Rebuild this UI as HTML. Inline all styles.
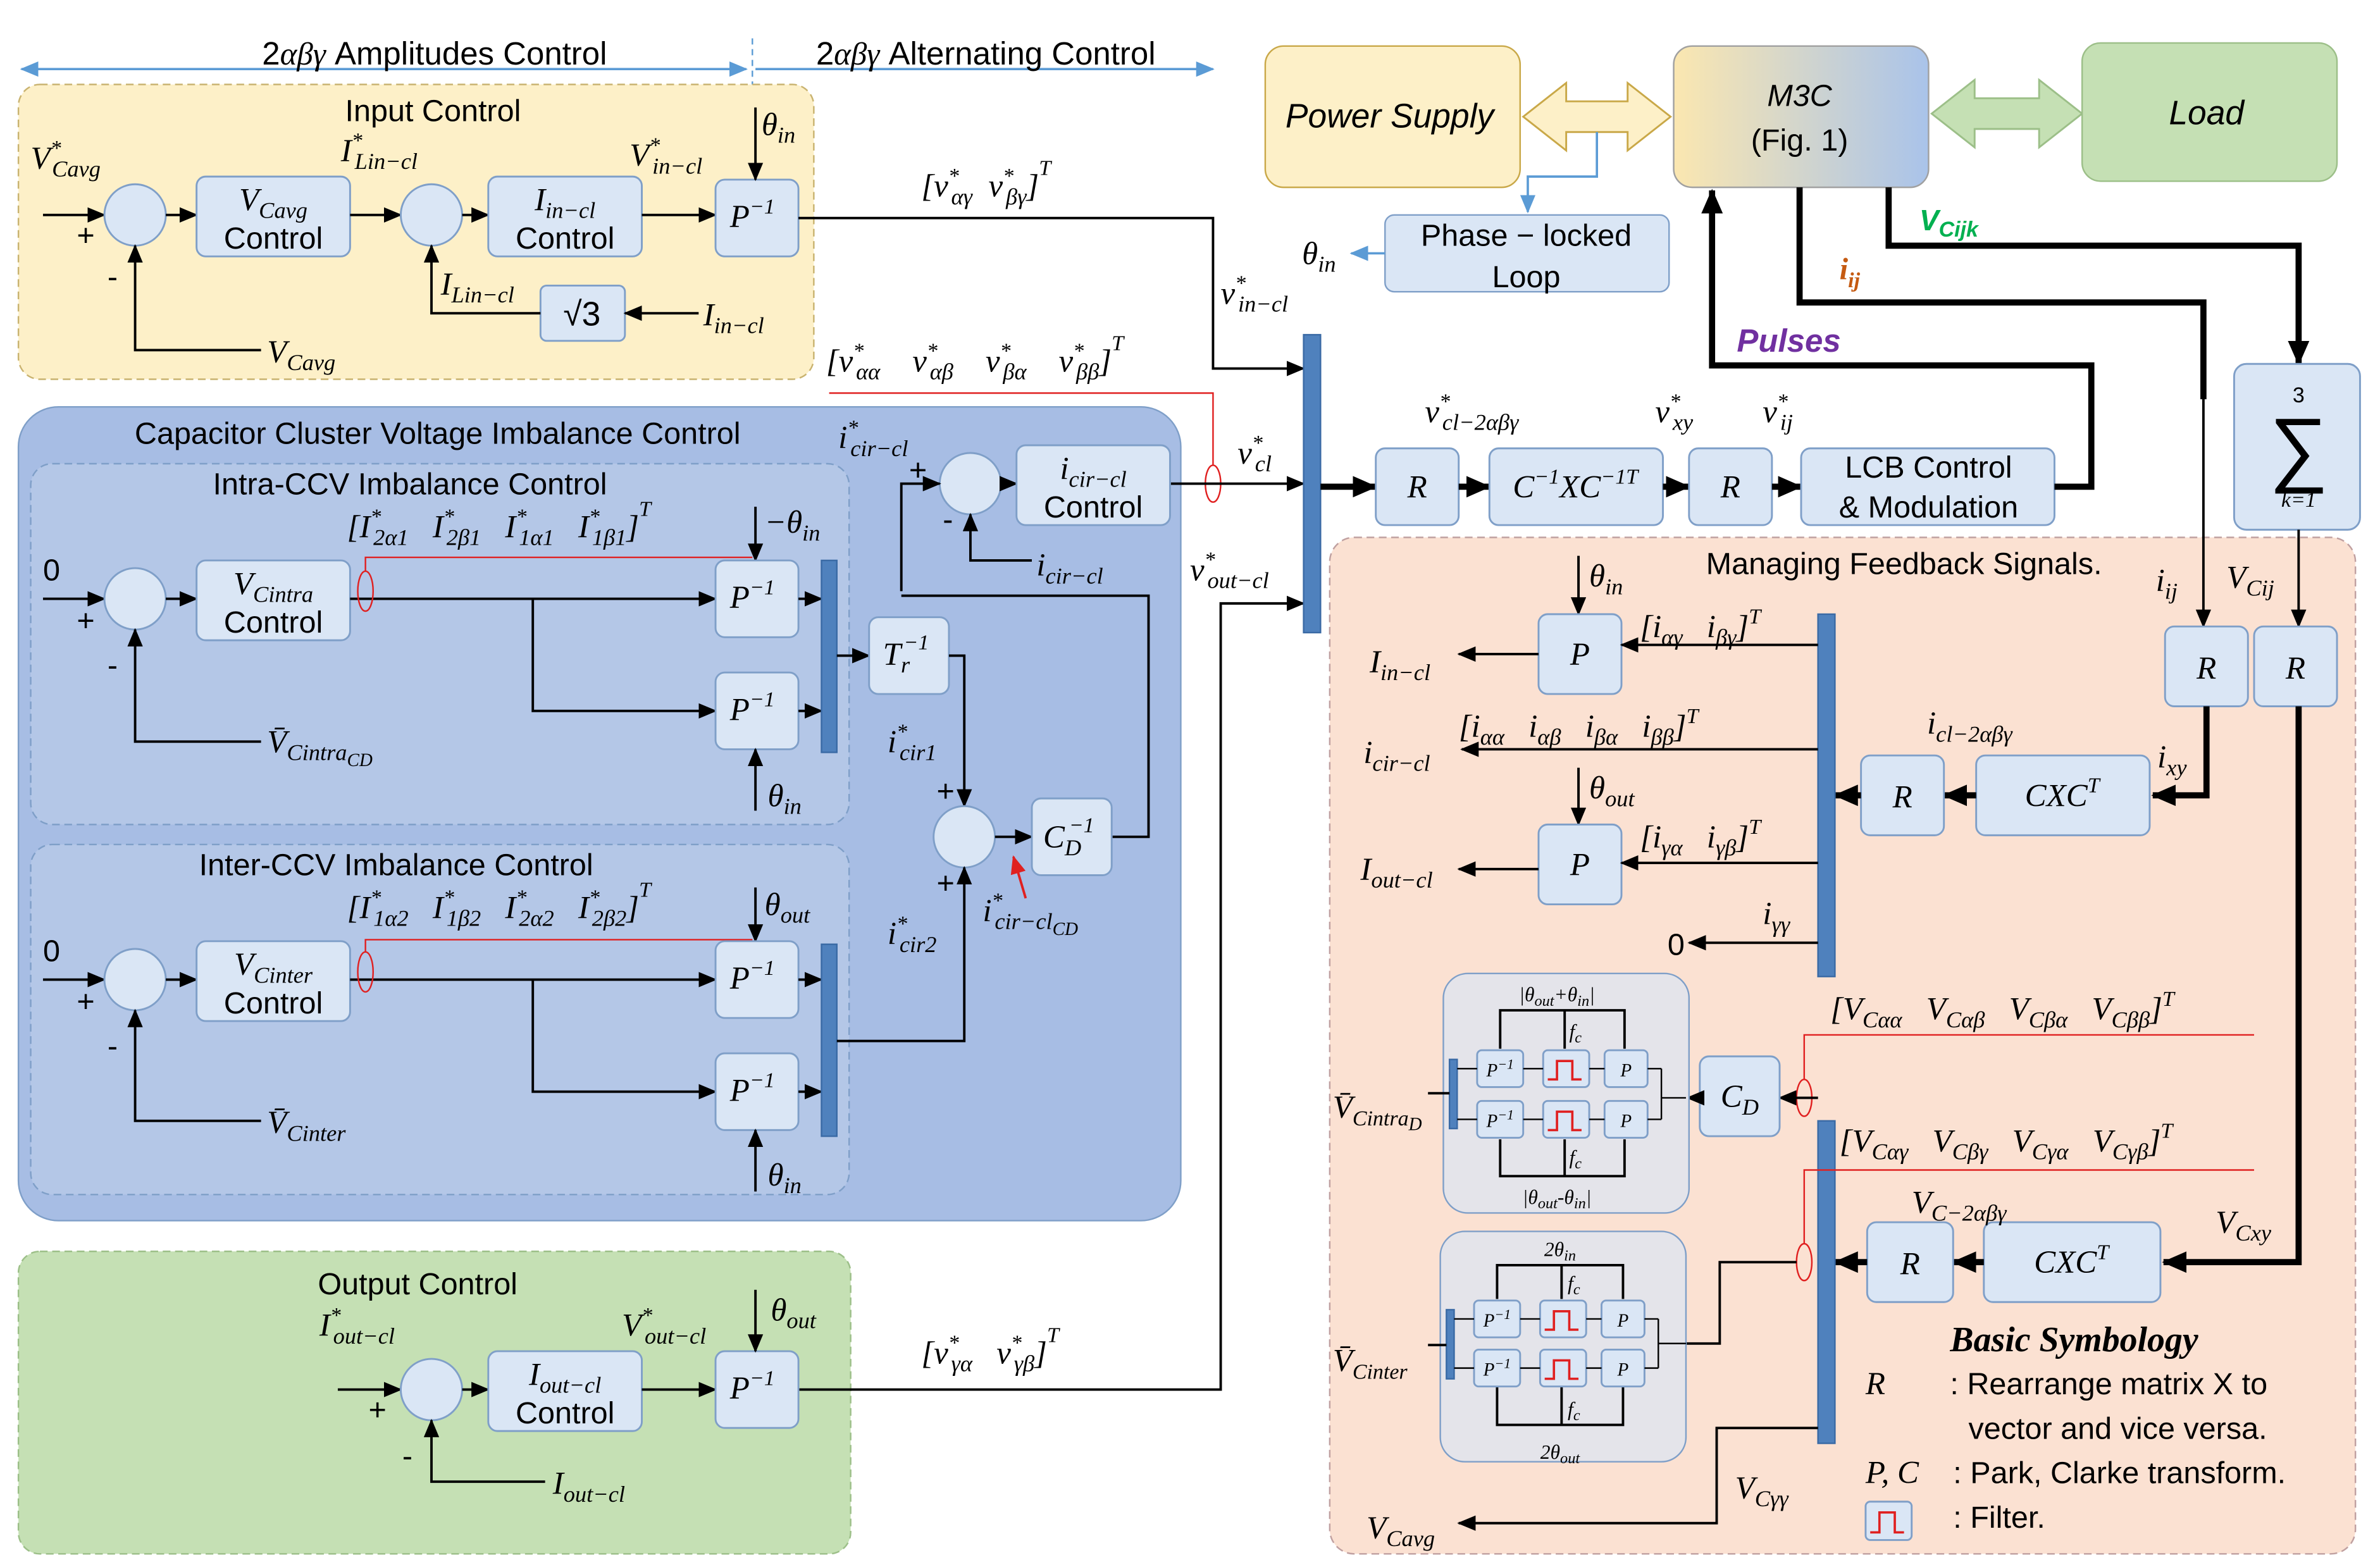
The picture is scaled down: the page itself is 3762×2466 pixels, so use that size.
<!DOCTYPE html>
<html><head><meta charset="utf-8"><style>
html,body{margin:0;padding:0;background:#fff}
svg{display:block}
text{white-space:pre}
.m{font-family:"Liberation Serif",serif;font-style:italic;font-size:21px;fill:#000}
.s{font-family:"Liberation Sans",sans-serif;font-size:20px;fill:#000}
.b{fill:#dae6f5;stroke:#7f9fc8;stroke-width:1.2}
.l{stroke:#000;stroke-width:1.6;fill:none}
.t{stroke:#000;stroke-width:4;fill:none}
.bar{fill:#4f81bd;stroke:#3a6aa5;stroke-width:1}
.r{stroke:#e02020;stroke-width:1;fill:none}
</style></head><body>
<svg width="3762" height="2466" viewBox="0 0 1550 1016" preserveAspectRatio="none" xmlns="http://www.w3.org/2000/svg">
<defs>
<marker id="a" markerUnits="userSpaceOnUse" markerWidth="12" markerHeight="10" refX="11" refY="5" orient="auto"><path d="M0,0 L12,5 L0,10 z" fill="#000"/></marker>
<marker id="A" markerUnits="userSpaceOnUse" markerWidth="16" markerHeight="14" refX="15" refY="7" orient="auto"><path d="M0,0 L16,7 L0,14 z" fill="#000"/></marker>
<marker id="bl" markerUnits="userSpaceOnUse" markerWidth="12" markerHeight="10" refX="11" refY="5" orient="auto"><path d="M0,0 L12,5 L0,10 z" fill="#5b9bd5"/></marker>
<marker id="bls" markerUnits="userSpaceOnUse" markerWidth="12" markerHeight="10" refX="1" refY="5" orient="auto"><path d="M12,0 L0,5 L12,10 z" fill="#5b9bd5"/></marker>
<marker id="rd" markerUnits="userSpaceOnUse" markerWidth="12" markerHeight="10" refX="11" refY="5" orient="auto"><path d="M0,0 L12,5 L0,10 z" fill="#e02020"/></marker>
<linearGradient id="g" x1="0" x2="1"><stop offset="0" stop-color="#fbe7b0"/><stop offset="1" stop-color="#a9c3ea"/></linearGradient>
</defs>

<!-- header -->
<line x1="14" y1="45" x2="486" y2="45" stroke="#5b9bd5" stroke-width="1.5" marker-start="url(#bls)" marker-end="url(#bl)"/>
<line x1="492" y1="45" x2="790" y2="45" stroke="#5b9bd5" stroke-width="1.5" marker-end="url(#bl)"/>
<line x1="490" y1="25" x2="490" y2="60" stroke="#5b9bd5" stroke-width="1" stroke-dasharray="4,3"/>
<text class="s" x="283" y="42" text-anchor="middle" style="font-size:21px">2<tspan class="m">αβγ</tspan> Amplitudes Control</text>
<text class="s" x="642" y="42" text-anchor="middle" style="font-size:21px">2<tspan class="m">αβγ</tspan> Alternating Control</text>

<!-- region boxes -->
<rect x="12" y="55" width="518" height="192" rx="14" fill="#fdf0c8" stroke="#c9b370" stroke-dasharray="5,3"/>
<text class="s" x="282" y="79" text-anchor="middle">Input Control</text>
<rect x="12" y="265" width="757" height="530" rx="26" fill="#a7bde4" stroke="#7f9fc8"/>
<text class="s" x="285" y="289" text-anchor="middle">Capacitor Cluster Voltage Imbalance Control</text>
<rect x="20" y="302" width="533" height="235" rx="14" fill="#b4c7e7" stroke="#7f9fc8" stroke-dasharray="5,3"/>
<text class="s" x="267" y="322" text-anchor="middle">Intra-CCV Imbalance Control</text>
<rect x="20" y="550" width="533" height="228" rx="14" fill="#b4c7e7" stroke="#7f9fc8" stroke-dasharray="5,3"/>
<text class="s" x="258" y="570" text-anchor="middle">Inter-CCV Imbalance Control</text>
<rect x="12" y="815" width="542" height="197" rx="14" fill="#c5e0b4" stroke="#9cbf88" stroke-dasharray="5,3"/>
<text class="s" x="272" y="843" text-anchor="middle">Output Control</text>
<rect x="866" y="350" width="668" height="662" rx="16" fill="#fbe1d2" stroke="#c0a0a0" stroke-dasharray="5,3"/>
<text class="s" x="1240" y="374" text-anchor="middle">Managing Feedback Signals.</text>

<!-- Input control -->
<text class="m" x="20" y="110">V<tspan font-size="14" dy="-9">*</tspan><tspan font-size="15" dx="-6" dy="14">Cavg</tspan></text>
<line class="l" x1="28" y1="140" x2="68" y2="140" marker-end="url(#a)"/>
<text class="s" x="50" y="160">+</text>
<circle cx="88" cy="140" r="20" class="b"/>
<line class="l" x1="108" y1="140" x2="128" y2="140" marker-end="url(#a)"/>
<rect class="b" x="128" y="115" width="100" height="52" rx="6"/>
<text class="m" x="178" y="137" text-anchor="middle">V<tspan font-size="15" dy="5">Cavg</tspan></text>
<text class="s" x="178" y="162" text-anchor="middle">Control</text>
<line class="l" x1="228" y1="140" x2="261" y2="140" marker-end="url(#a)"/>
<text class="m" x="222" y="105">I<tspan font-size="14" dy="-9">*</tspan><tspan font-size="15" dx="-5" dy="14">Lin−cl</tspan></text>
<circle cx="281" cy="140" r="20" class="b"/>
<line class="l" x1="301" y1="140" x2="318" y2="140" marker-end="url(#a)"/>
<rect class="b" x="318" y="115" width="100" height="52" rx="6"/>
<text class="m" x="368" y="137" text-anchor="middle">I<tspan font-size="15" dy="5">in−cl</tspan></text>
<text class="s" x="368" y="162" text-anchor="middle">Control</text>
<line class="l" x1="418" y1="140" x2="466" y2="140" marker-end="url(#a)"/>
<text class="m" x="410" y="108">V<tspan font-size="14" dy="-9">*</tspan><tspan font-size="15" dx="-5" dy="14">in−cl</tspan></text>
<rect class="b" x="466" y="117" width="54" height="50" rx="6"/>
<text class="m" x="490" y="148" text-anchor="middle">P<tspan font-size="14" dy="-9">−1</tspan></text>
<line class="l" x1="492" y1="70" x2="492" y2="117" marker-end="url(#a)"/>
<text class="m" x="496" y="88">θ<tspan font-size="15" dy="5">in</tspan></text>
<polyline class="l" points="170,228 88,228 88,160" marker-end="url(#a)"/>
<text class="s" x="70" y="187">-</text>
<text class="m" x="174" y="236">V<tspan font-size="15" dy="5">Cavg</tspan></text>
<rect class="b" x="352" y="186" width="55" height="36" rx="4"/>
<text class="s" x="379" y="212" text-anchor="middle" style="font-size:22px">√3</text>
<line class="l" x1="455" y1="204" x2="407" y2="204" marker-end="url(#a)"/>
<text class="m" x="458" y="212">I<tspan font-size="15" dy="5">in−cl</tspan></text>
<polyline class="l" points="352,204 281,204 281,160" marker-end="url(#a)"/>
<text class="m" x="287" y="192">I<tspan font-size="15" dy="5">Lin−cl</tspan></text>
<polyline class="l" points="520,142 790,142 790,240 849,240" marker-end="url(#a)"/>
<text class="m" x="600" y="128">[v<tspan font-size="14" dy="-9">*</tspan><tspan font-size="15" dx="-5" dy="14">αγ</tspan><tspan dy="-5">  v</tspan><tspan font-size="14" dy="-9">*</tspan><tspan font-size="15" dx="-5" dy="14">βγ</tspan><tspan dy="-5">]</tspan><tspan font-size="14" dy="-14">T</tspan></text>
<text class="m" x="795" y="198">v<tspan font-size="14" dy="-9">*</tspan><tspan font-size="15" dx="-5" dy="14">in−cl</tspan></text>

<!-- alpha beta refs -->
<text class="m" x="538" y="242">[v<tspan font-size="14" dy="-9">*</tspan><tspan font-size="15" dx="-5" dy="14">αα</tspan><tspan dy="-5">    v</tspan><tspan font-size="14" dy="-9">*</tspan><tspan font-size="15" dx="-5" dy="14">αβ</tspan><tspan dy="-5">    v</tspan><tspan font-size="14" dy="-9">*</tspan><tspan font-size="15" dx="-5" dy="14">βα</tspan><tspan dy="-5">    v</tspan><tspan font-size="14" dy="-9">*</tspan><tspan font-size="15" dx="-5" dy="14">ββ</tspan><tspan dy="-5">]</tspan><tspan font-size="14" dy="-14">T</tspan></text>
<polyline class="r" points="540,256 790,256 790,303"/>
<ellipse cx="790" cy="315" rx="5" ry="12" class="r"/>
<line class="l" x1="762" y1="315" x2="849" y2="315" marker-end="url(#a)"/>
<text class="m" x="806" y="302">v<tspan font-size="14" dy="-9">*</tspan><tspan font-size="15" dx="-5" dy="14">cl</tspan></text>
<text class="m" x="775" y="378">v<tspan font-size="14" dy="-9">*</tspan><tspan font-size="15" dx="-5" dy="14">out−cl</tspan></text>
<polyline class="l" points="520,905 795,905 795,393 849,393" marker-end="url(#a)"/>

<!-- circulating control -->
<circle cx="632" cy="315" r="20" class="b"/>
<text class="m" x="546" y="292">i<tspan font-size="14" dy="-9">*</tspan><tspan font-size="15" dx="-5" dy="14">cir−cl</tspan></text>
<text class="s" x="592" y="313">+</text>
<text class="s" x="614" y="345">-</text>
<polyline class="l" points="587,385 587,315 612,315" marker-end="url(#a)"/>
<line class="l" x1="652" y1="315" x2="662" y2="315" marker-end="url(#a)"/>
<rect class="b" x="662" y="290" width="100" height="52" rx="6"/>
<text class="m" x="712" y="312" text-anchor="middle">i<tspan font-size="15" dy="5">cir−cl</tspan></text>
<text class="s" x="712" y="337" text-anchor="middle">Control</text>
<polyline class="l" points="672,365 632,365 632,335" marker-end="url(#a)"/>
<text class="m" x="675" y="375">i<tspan font-size="15" dy="5">cir−cl</tspan></text>
<polyline class="l" points="724,545 748,545 748,388 587,388"/>

<!-- Intra -->
<text class="s" x="28" y="378">0</text>
<line class="l" x1="28" y1="390" x2="68" y2="390" marker-end="url(#a)"/>
<text class="s" x="50" y="411">+</text>
<circle cx="88" cy="390" r="20" class="b"/>
<text class="s" x="70" y="440">-</text>
<polyline class="l" points="170,483 88,483 88,410" marker-end="url(#a)"/>
<text class="m" x="174" y="490">V̄<tspan font-size="15" dy="5">Cintra</tspan><tspan font-size="12" dy="4">CD</tspan></text>
<line class="l" x1="108" y1="390" x2="128" y2="390" marker-end="url(#a)"/>
<rect class="b" x="128" y="365" width="100" height="52" rx="6"/>
<text class="m" x="178" y="387" text-anchor="middle">V<tspan font-size="15" dy="5">Cintra</tspan></text>
<text class="s" x="178" y="412" text-anchor="middle">Control</text>
<line class="l" x1="228" y1="390" x2="466" y2="390" marker-end="url(#a)"/>
<polyline class="l" points="347,390 347,463 466,463" marker-end="url(#a)"/>
<ellipse cx="238" cy="385" rx="5" ry="13" class="r"/>
<polyline class="r" points="238,372 238,363 490,363"/>
<text class="m" x="226" y="350">[I<tspan font-size="14" dy="-9">*</tspan><tspan font-size="15" dx="-5" dy="14">2α1</tspan><tspan dy="-5">   I</tspan><tspan font-size="14" dy="-9">*</tspan><tspan font-size="15" dx="-5" dy="14">2β1</tspan><tspan dy="-5">   I</tspan><tspan font-size="14" dy="-9">*</tspan><tspan font-size="15" dx="-5" dy="14">1α1</tspan><tspan dy="-5">   I</tspan><tspan font-size="14" dy="-9">*</tspan><tspan font-size="15" dx="-5" dy="14">1β1</tspan><tspan dy="-5">]</tspan><tspan font-size="14" dy="-14">T</tspan></text>
<line class="l" x1="492" y1="330" x2="492" y2="365" marker-end="url(#a)"/>
<text class="m" x="498" y="347">−θ<tspan font-size="15" dy="5">in</tspan></text>
<rect class="b" x="466" y="365" width="54" height="50" rx="6"/>
<text class="m" x="490" y="396" text-anchor="middle">P<tspan font-size="14" dy="-9">−1</tspan></text>
<rect class="b" x="466" y="438" width="54" height="50" rx="6"/>
<text class="m" x="490" y="469" text-anchor="middle">P<tspan font-size="14" dy="-9">−1</tspan></text>
<line class="l" x1="492" y1="528" x2="492" y2="488" marker-end="url(#a)"/>
<text class="m" x="500" y="525">θ<tspan font-size="15" dy="5">in</tspan></text>
<line class="l" x1="520" y1="390" x2="535" y2="390" marker-end="url(#a)"/>
<line class="l" x1="520" y1="463" x2="535" y2="463" marker-end="url(#a)"/>
<rect class="bar" x="535" y="365" width="10" height="125"/>
<line class="l" x1="545" y1="427" x2="566" y2="427" marker-end="url(#a)"/>
<rect class="b" x="566" y="402" width="52" height="50" rx="6"/>
<text class="m" x="590" y="433" text-anchor="middle">T<tspan font-size="15" dy="5">r</tspan><tspan font-size="14" dy="-15" dx="-4">−1</tspan></text>
<polyline class="l" points="618,427 628,427 628,525" marker-end="url(#a)"/>
<text class="m" x="578" y="490">i<tspan font-size="14" dy="-9">*</tspan><tspan font-size="15" dx="-5" dy="14">cir1</tspan></text>
<text class="s" x="610" y="522">+</text>
<circle cx="628" cy="545" r="20" class="b"/>
<line class="l" x1="648" y1="545" x2="672" y2="545" marker-end="url(#a)"/>
<rect class="b" x="672" y="520" width="52" height="50" rx="6"/>
<text class="m" x="696" y="552" text-anchor="middle">C<tspan font-size="15" dy="5">D</tspan><tspan font-size="14" dy="-15" dx="-8">−1</tspan></text>
<line x1="668" y1="585" x2="660" y2="558" stroke="#e02020" stroke-width="1.6" marker-end="url(#rd)"/>
<text class="m" x="640" y="600">i<tspan font-size="14" dy="-9">*</tspan><tspan font-size="15" dx="-5" dy="14">cir−cl</tspan><tspan font-size="12" dy="4">CD</tspan></text>

<!-- Inter -->
<text class="s" x="28" y="626">0</text>
<line class="l" x1="28" y1="638" x2="68" y2="638" marker-end="url(#a)"/>
<text class="s" x="50" y="659">+</text>
<circle cx="88" cy="638" r="20" class="b"/>
<text class="s" x="70" y="688">-</text>
<polyline class="l" points="170,730 88,730 88,658" marker-end="url(#a)"/>
<text class="m" x="174" y="738">V̄<tspan font-size="15" dy="5">Cinter</tspan></text>
<line class="l" x1="108" y1="638" x2="128" y2="638" marker-end="url(#a)"/>
<rect class="b" x="128" y="613" width="100" height="52" rx="6"/>
<text class="m" x="178" y="635" text-anchor="middle">V<tspan font-size="15" dy="5">Cinter</tspan></text>
<text class="s" x="178" y="660" text-anchor="middle">Control</text>
<line class="l" x1="228" y1="638" x2="466" y2="638" marker-end="url(#a)"/>
<polyline class="l" points="347,638 347,711 466,711" marker-end="url(#a)"/>
<ellipse cx="238" cy="633" rx="5" ry="13" class="r"/>
<polyline class="r" points="238,620 238,612 490,612"/>
<text class="m" x="226" y="598">[I<tspan font-size="14" dy="-9">*</tspan><tspan font-size="15" dx="-5" dy="14">1α2</tspan><tspan dy="-5">   I</tspan><tspan font-size="14" dy="-9">*</tspan><tspan font-size="15" dx="-5" dy="14">1β2</tspan><tspan dy="-5">   I</tspan><tspan font-size="14" dy="-9">*</tspan><tspan font-size="15" dx="-5" dy="14">2α2</tspan><tspan dy="-5">   I</tspan><tspan font-size="14" dy="-9">*</tspan><tspan font-size="15" dx="-5" dy="14">2β2</tspan><tspan dy="-5">]</tspan><tspan font-size="14" dy="-14">T</tspan></text>
<line class="l" x1="492" y1="578" x2="492" y2="613" marker-end="url(#a)"/>
<text class="m" x="498" y="596">θ<tspan font-size="15" dy="5">out</tspan></text>
<rect class="b" x="466" y="613" width="54" height="50" rx="6"/>
<text class="m" x="490" y="644" text-anchor="middle">P<tspan font-size="14" dy="-9">−1</tspan></text>
<rect class="b" x="466" y="686" width="54" height="50" rx="6"/>
<text class="m" x="490" y="717" text-anchor="middle">P<tspan font-size="14" dy="-9">−1</tspan></text>
<line class="l" x1="492" y1="776" x2="492" y2="736" marker-end="url(#a)"/>
<text class="m" x="500" y="772">θ<tspan font-size="15" dy="5">in</tspan></text>
<line class="l" x1="520" y1="638" x2="535" y2="638" marker-end="url(#a)"/>
<line class="l" x1="520" y1="711" x2="535" y2="711" marker-end="url(#a)"/>
<rect class="bar" x="535" y="615" width="10" height="125"/>
<polyline class="l" points="545,678 628,678 628,565" marker-end="url(#a)"/>
<text class="m" x="578" y="615">i<tspan font-size="14" dy="-9">*</tspan><tspan font-size="15" dx="-5" dy="14">cir2</tspan></text>
<text class="s" x="610" y="582">+</text>

<!-- Output control -->
<text class="m" x="208" y="870">I<tspan font-size="14" dy="-9">*</tspan><tspan font-size="15" dx="-5" dy="14">out−cl</tspan></text>
<line class="l" x1="220" y1="905" x2="261" y2="905" marker-end="url(#a)"/>
<text class="s" x="240" y="925">+</text>
<circle cx="281" cy="905" r="20" class="b"/>
<text class="s" x="262" y="955">-</text>
<polyline class="l" points="355,965 281,965 281,925" marker-end="url(#a)"/>
<text class="m" x="360" y="973">I<tspan font-size="15" dy="5">out−cl</tspan></text>
<line class="l" x1="301" y1="905" x2="318" y2="905" marker-end="url(#a)"/>
<rect class="b" x="318" y="880" width="100" height="52" rx="6"/>
<text class="m" x="368" y="902" text-anchor="middle">I<tspan font-size="15" dy="5">out−cl</tspan></text>
<text class="s" x="368" y="927" text-anchor="middle">Control</text>
<line class="l" x1="418" y1="905" x2="466" y2="905" marker-end="url(#a)"/>
<text class="m" x="405" y="870">V<tspan font-size="14" dy="-9">*</tspan><tspan font-size="15" dx="-5" dy="14">out−cl</tspan></text>
<rect class="b" x="466" y="880" width="54" height="50" rx="6"/>
<text class="m" x="490" y="911" text-anchor="middle">P<tspan font-size="14" dy="-9">−1</tspan></text>
<line class="l" x1="492" y1="840" x2="492" y2="880" marker-end="url(#a)"/>
<text class="m" x="502" y="860">θ<tspan font-size="15" dy="5">out</tspan></text>
<text class="m" x="600" y="888">[v<tspan font-size="14" dy="-9">*</tspan><tspan font-size="15" dx="-5" dy="14">γα</tspan><tspan dy="-5">   v</tspan><tspan font-size="14" dy="-9">*</tspan><tspan font-size="15" dx="-5" dy="14">γβ</tspan><tspan dy="-5">]</tspan><tspan font-size="14" dy="-14">T</tspan></text>

<!-- middle bar and chain -->
<rect class="bar" x="849" y="218" width="11" height="194"/>
<line class="t" x1="860" y1="317" x2="896" y2="317" marker-end="url(#A)"/>
<rect class="b" x="896" y="292" width="54" height="50" rx="6"/>
<text class="m" x="923" y="324" text-anchor="middle">R</text>
<line class="t" x1="950" y1="317" x2="970" y2="317" marker-end="url(#A)"/>
<rect class="b" x="970" y="292" width="113" height="50" rx="6"/>
<text class="m" x="1026" y="324" text-anchor="middle">C<tspan font-size="14" dy="-9">−1</tspan><tspan dy="9">XC</tspan><tspan font-size="14" dy="-9">−1T</tspan></text>
<text class="m" x="928" y="275">v<tspan font-size="14" dy="-9">*</tspan><tspan font-size="15" dx="-5" dy="14">cl−2αβγ</tspan></text>
<line class="t" x1="1083" y1="317" x2="1100" y2="317" marker-end="url(#A)"/>
<text class="m" x="1078" y="275">v<tspan font-size="14" dy="-9">*</tspan><tspan font-size="15" dx="-5" dy="14">xy</tspan></text>
<rect class="b" x="1100" y="292" width="54" height="50" rx="6"/>
<text class="m" x="1127" y="324" text-anchor="middle">R</text>
<line class="t" x1="1154" y1="317" x2="1173" y2="317" marker-end="url(#A)"/>
<text class="m" x="1148" y="275">v<tspan font-size="14" dy="-9">*</tspan><tspan font-size="15" dx="-5" dy="14">ij</tspan></text>
<rect class="b" x="1173" y="292" width="165" height="50" rx="6"/>
<text class="s" x="1256" y="311" text-anchor="middle">LCB Control</text>
<text class="s" x="1256" y="337" text-anchor="middle">&amp; Modulation</text>

<!-- top right -->
<rect x="824" y="30" width="166" height="92" rx="12" fill="#fdf0c8" stroke="#c9a848"/>
<text class="s" x="905" y="83" text-anchor="middle" style="font-style:italic;font-size:22px">Power Supply</text>
<polygon points="992,76 1020,54 1020,66 1060,66 1060,54 1088,76 1060,98 1060,86 1020,86 1020,98" fill="#fdf0c8" stroke="#c9a848" stroke-width="1.2"/>
<rect x="1090" y="30" width="166" height="92" rx="12" fill="url(#g)" stroke="#a0a0a0"/>
<text class="s" x="1172" y="69" text-anchor="middle" style="font-style:italic">M3C</text>
<text class="s" x="1172" y="98" text-anchor="middle">(Fig. 1)</text>
<polygon points="1258,74 1286,52 1286,64 1328,64 1328,52 1356,74 1328,96 1328,84 1286,84 1286,96" fill="#c5e0b4" stroke="#9cbf88" stroke-width="1.2"/>
<rect x="1356" y="28" width="166" height="90" rx="12" fill="#c5e0b4" stroke="#9cbf88"/>
<text class="s" x="1437" y="81" text-anchor="middle" style="font-style:italic;font-size:22px">Load</text>
<polyline points="1040,86 1040,115 995,115 995,138" fill="none" stroke="#5b9bd5" stroke-width="1.5" marker-end="url(#bl)"/>
<rect x="902" y="140" width="185" height="50" rx="6" fill="#dae6f5" stroke="#7f9fc8"/>
<text class="s" x="994" y="160" text-anchor="middle">Phase − locked</text>
<text class="s" x="994" y="187" text-anchor="middle">Loop</text>
<line x1="902" y1="165" x2="880" y2="165" stroke="#5b9bd5" stroke-width="1.5" marker-end="url(#bl)"/>
<text class="m" x="848" y="172">θ<tspan font-size="15" dy="5">in</tspan></text>

<polyline class="t" points="1338,317 1362,317 1362,238 1115,238 1115,124" marker-end="url(#A)"/>
<text x="1165" y="229" text-anchor="middle" font-family="Liberation Sans,sans-serif" font-weight="bold" font-style="italic" font-size="21" fill="#7030a0">Pulses</text>
<polyline class="t" points="1172,122 1172,197 1435,197 1435,260"/>
<line class="l" x1="1435" y1="258" x2="1435" y2="408" stroke-width="2.5" marker-end="url(#a)"/>
<text x="1198" y="182" font-family="Liberation Serif,serif" font-weight="bold" font-style="italic" font-size="20" fill="#c55a11">i<tspan font-size="14" dy="5">ij</tspan></text>
<polyline class="t" points="1230,122 1230,160 1497,160 1497,237" marker-end="url(#A)"/>
<text x="1250" y="150" font-family="Liberation Sans,sans-serif" font-weight="bold" font-style="italic" font-size="19" fill="#00b050">V<tspan font-size="14" dy="4">Cijk</tspan></text>
<rect class="b" x="1455" y="237" width="82" height="108" rx="8"/>
<text class="s" x="1497" y="262" text-anchor="middle" style="font-size:14px">3</text>
<text class="s" x="1497" y="310" text-anchor="middle" style="font-size:54px">∑</text>
<text class="m" x="1497" y="330" text-anchor="middle" style="font-size:14px">k=1</text>
<line class="l" x1="1497" y1="345" x2="1497" y2="408" stroke-width="2.5" marker-end="url(#a)"/>
<text class="m" x="1450" y="383">V<tspan font-size="15" dy="5">Cij</tspan></text>
<text class="m" x="1404" y="385">i<tspan font-size="15" dy="5">ij</tspan></text>
<rect class="b" x="1410" y="408" width="54" height="52" rx="6"/>
<text class="m" x="1437" y="442" text-anchor="middle">R</text>
<rect class="b" x="1468" y="408" width="54" height="52" rx="6"/>
<text class="m" x="1495" y="442" text-anchor="middle">R</text>
<polyline class="t" points="1437,460 1437,518 1402,518" marker-end="url(#A)"/>
<text class="m" x="1405" y="500">i<tspan font-size="15" dy="5">xy</tspan></text>
<rect class="b" x="1287" y="492" width="113" height="52" rx="6"/>
<text class="m" x="1343" y="525" text-anchor="middle">CXC<tspan font-size="14" dy="-9">T</tspan></text>
<line class="t" x1="1287" y1="518" x2="1266" y2="518" marker-end="url(#A)"/>
<rect class="b" x="1212" y="492" width="54" height="52" rx="6"/>
<text class="m" x="1239" y="526" text-anchor="middle">R</text>
<line class="t" x1="1212" y1="518" x2="1195" y2="518" marker-end="url(#A)"/>
<text class="m" x="1255" y="478">i<tspan font-size="15" dy="5">cl−2αβγ</tspan></text>
<polyline class="t" points="1497,460 1497,822 1409,822" marker-end="url(#A)"/>
<text class="m" x="1443" y="803">V<tspan font-size="15" dy="5">Cxy</tspan></text>
<rect class="b" x="1292" y="796" width="115" height="52" rx="6"/>
<text class="m" x="1349" y="829" text-anchor="middle">CXC<tspan font-size="14" dy="-9">T</tspan></text>
<line class="t" x1="1292" y1="822" x2="1272" y2="822" marker-end="url(#A)"/>
<rect class="b" x="1216" y="796" width="56" height="52" rx="6"/>
<text class="m" x="1244" y="830" text-anchor="middle">R</text>
<line class="t" x1="1216" y1="822" x2="1195" y2="822" marker-end="url(#A)"/>
<text class="m" x="1245" y="790">V<tspan font-size="15" dy="5">C−2αβγ</tspan></text>

<!-- feedback bars -->
<rect class="bar" x="1184" y="400" width="11" height="236"/>
<rect class="bar" x="1184" y="730" width="11" height="210"/>
<line class="l" x1="1028" y1="362" x2="1028" y2="400" marker-end="url(#a)"/>
<text class="m" x="1035" y="382">θ<tspan font-size="15" dy="5">in</tspan></text>
<rect class="b" x="1002" y="400" width="54" height="52" rx="6"/>
<text class="m" x="1029" y="433" text-anchor="middle">P</text>
<line class="l" x1="1184" y1="420" x2="1056" y2="420" marker-end="url(#a)"/>
<text class="m" x="1068" y="415">[i<tspan font-size="15" dy="5">αγ</tspan><tspan dy="-5">   i</tspan><tspan font-size="15" dy="5">βγ</tspan><tspan dy="-5">]</tspan><tspan font-size="14" dy="-9">T</tspan></text>
<line class="l" x1="1002" y1="426" x2="950" y2="426" marker-end="url(#a)"/>
<text class="m" x="892" y="438">I<tspan font-size="15" dy="5">in−cl</tspan></text>
<text class="m" x="950" y="480">[i<tspan font-size="15" dy="5">αα</tspan><tspan dy="-5">   i</tspan><tspan font-size="15" dy="5">αβ</tspan><tspan dy="-5">   i</tspan><tspan font-size="15" dy="5">βα</tspan><tspan dy="-5">   i</tspan><tspan font-size="15" dy="5">ββ</tspan><tspan dy="-5">]</tspan><tspan font-size="14" dy="-9">T</tspan></text>
<line class="l" x1="1184" y1="488" x2="952" y2="488" marker-end="url(#a)"/>
<text class="m" x="888" y="497">i<tspan font-size="15" dy="5">cir−cl</tspan></text>
<line class="l" x1="1028" y1="500" x2="1028" y2="537" marker-end="url(#a)"/>
<text class="m" x="1035" y="520">θ<tspan font-size="15" dy="5">out</tspan></text>
<rect class="b" x="1002" y="537" width="54" height="52" rx="6"/>
<text class="m" x="1029" y="570" text-anchor="middle">P</text>
<line class="l" x1="1184" y1="562" x2="1056" y2="562" marker-end="url(#a)"/>
<text class="m" x="1068" y="552">[i<tspan font-size="15" dy="5">γα</tspan><tspan dy="-5">   i</tspan><tspan font-size="15" dy="5">γβ</tspan><tspan dy="-5">]</tspan><tspan font-size="14" dy="-9">T</tspan></text>
<line class="l" x1="1002" y1="566" x2="950" y2="566" marker-end="url(#a)"/>
<text class="m" x="886" y="573">I<tspan font-size="15" dy="5">out−cl</tspan></text>
<text class="m" x="1148" y="602">i<tspan font-size="15" dy="5">γγ</tspan></text>
<line class="l" x1="1184" y1="614" x2="1100" y2="614" marker-end="url(#a)"/>
<text class="s" x="1086" y="622">0</text>

<text class="m" x="1192" y="664">[V<tspan font-size="15" dy="5">Cαα</tspan><tspan dy="-5">   V</tspan><tspan font-size="15" dy="5">Cαβ</tspan><tspan dy="-5">   V</tspan><tspan font-size="15" dy="5">Cβα</tspan><tspan dy="-5">   V</tspan><tspan font-size="15" dy="5">Cββ</tspan><tspan dy="-5">]</tspan><tspan font-size="14" dy="-9">T</tspan></text>
<polyline class="r" points="1468,674 1175,674 1175,703"/>
<ellipse cx="1175" cy="715" rx="5" ry="12" class="r"/>
<line class="l" x1="1184" y1="715" x2="1159" y2="715" marker-end="url(#a)"/>
<rect class="b" x="1107" y="688" width="52" height="52" rx="6"/>
<text class="m" x="1133" y="721" text-anchor="middle">C<tspan font-size="15" dy="5">D</tspan></text>
<line class="l" x1="1107" y1="715" x2="1099" y2="715" marker-end="url(#a)"/>
<text class="m" x="1198" y="750">[V<tspan font-size="15" dy="5">Cαγ</tspan><tspan dy="-5">   V</tspan><tspan font-size="15" dy="5">Cβγ</tspan><tspan dy="-5">   V</tspan><tspan font-size="15" dy="5">Cγα</tspan><tspan dy="-5">   V</tspan><tspan font-size="15" dy="5">Cγβ</tspan><tspan dy="-5">]</tspan><tspan font-size="14" dy="-9">T</tspan></text>
<polyline class="r" points="1468,762 1175,762 1175,810"/>
<ellipse cx="1175" cy="822" rx="5" ry="12" class="r"/>
<polyline class="l" points="1170,822 1120,822 1120,875 1098,875" stroke-width="1"/>
<polyline class="l" points="1184,930 1118,930 1118,992 950,992" marker-end="url(#a)"/>
<text class="m" x="1130" y="976">V<tspan font-size="15" dy="5">Cγγ</tspan></text>
<text class="m" x="890" y="1002">V<tspan font-size="15" dy="5">Cavg</tspan></text>

<!-- filter panel 1 -->
<rect x="940" y="634" width="160" height="156" rx="16" fill="#e4e4ea" stroke="#7f9fc8"/>
<text class="m" x="1014" y="652" text-anchor="middle" style="font-size:13px">|θ<tspan font-size="10" dy="3">out</tspan><tspan dy="-3">+θ</tspan><tspan font-size="10" dy="3">in</tspan><tspan dy="-3">|</tspan></text>
<text class="m" x="1014" y="784" text-anchor="middle" style="font-size:13px">|θ<tspan font-size="10" dy="3">out</tspan><tspan dy="-3">-θ</tspan><tspan font-size="10" dy="3">in</tspan><tspan dy="-3">|</tspan></text>
<polyline class="l" stroke-width="1" points="977,683 977,658 1058,658 1058,683"/>
<polyline class="l" stroke-width="1" points="977,742 977,766 1058,766 1058,742"/>
<line class="l" stroke-width="1" x1="1019" y1="658" x2="1019" y2="683"/>
<line class="l" stroke-width="1" x1="1019" y1="742" x2="1019" y2="766"/>
<text class="m" x="1022" y="676" style="font-size:13px">f<tspan font-size="10" dy="3">c</tspan></text>
<text class="m" x="1022" y="758" style="font-size:13px">f<tspan font-size="10" dy="3">c</tspan></text>
<rect class="bar" x="944" y="690" width="5" height="45"/>
<rect class="b" x="962" y="684" width="30" height="24" rx="3"/><text class="m" x="977" y="701" text-anchor="middle" style="font-size:12px">P<tspan font-size="9" dy="-5">−1</tspan></text>
<rect class="b" x="962" y="717" width="30" height="24" rx="3"/><text class="m" x="977" y="734" text-anchor="middle" style="font-size:12px">P<tspan font-size="9" dy="-5">−1</tspan></text>
<rect class="b" x="1005" y="684" width="30" height="24" rx="3"/><path d="M1008,703 h6 v-12 h10 v12 h6" stroke="#e02020" fill="none" stroke-width="1.5"/>
<rect class="b" x="1005" y="717" width="30" height="24" rx="3"/><path d="M1008,736 h6 v-12 h10 v12 h6" stroke="#e02020" fill="none" stroke-width="1.5"/>
<rect class="b" x="1045" y="684" width="28" height="24" rx="3"/><text class="m" x="1059" y="701" text-anchor="middle" style="font-size:12px">P</text>
<rect class="b" x="1045" y="717" width="28" height="24" rx="3"/><text class="m" x="1059" y="734" text-anchor="middle" style="font-size:12px">P</text>
<g stroke="#000" stroke-width="1"><line x1="1045" y1="696" x2="1035" y2="696"/><line x1="1005" y1="696" x2="992" y2="696"/><line x1="962" y1="696" x2="949" y2="696"/><line x1="1045" y1="729" x2="1035" y2="729"/><line x1="1005" y1="729" x2="992" y2="729"/><line x1="962" y1="729" x2="949" y2="729"/><line x1="1098" y1="715" x2="1082" y2="715"/><line x1="1082" y1="696" x2="1082" y2="729"/><line x1="1082" y1="696" x2="1073" y2="696"/><line x1="1082" y1="729" x2="1073" y2="729"/></g>
<text class="m" x="868" y="728">V̄<tspan font-size="14" dy="5">Cintra</tspan><tspan font-size="12" dy="3">D</tspan></text>
<line class="l" stroke-width="1" x1="944" y1="712" x2="930" y2="712"/>

<!-- filter panel 2 -->
<rect x="938" y="802" width="160" height="150" rx="16" fill="#e4e4ea" stroke="#7f9fc8"/>
<text class="m" x="1016" y="818" text-anchor="middle" style="font-size:13px">2θ<tspan font-size="10" dy="3">in</tspan></text>
<text class="m" x="1016" y="950" text-anchor="middle" style="font-size:13px">2θ<tspan font-size="10" dy="3">out</tspan></text>
<polyline class="l" stroke-width="1" points="975,846 975,824 1057,824 1057,846"/>
<polyline class="l" stroke-width="1" points="975,903 975,928 1057,928 1057,903"/>
<line class="l" stroke-width="1" x1="1017" y1="824" x2="1017" y2="846"/>
<line class="l" stroke-width="1" x1="1017" y1="903" x2="1017" y2="928"/>
<text class="m" x="1021" y="840" style="font-size:13px">f<tspan font-size="10" dy="3">c</tspan></text>
<text class="m" x="1021" y="922" style="font-size:13px">f<tspan font-size="10" dy="3">c</tspan></text>
<rect class="bar" x="942" y="853" width="5" height="45"/>
<rect class="b" x="960" y="847" width="30" height="24" rx="3"/><text class="m" x="975" y="864" text-anchor="middle" style="font-size:12px">P<tspan font-size="9" dy="-5">−1</tspan></text>
<rect class="b" x="960" y="879" width="30" height="24" rx="3"/><text class="m" x="975" y="896" text-anchor="middle" style="font-size:12px">P<tspan font-size="9" dy="-5">−1</tspan></text>
<rect class="b" x="1003" y="847" width="30" height="24" rx="3"/><path d="M1006,866 h6 v-12 h10 v12 h6" stroke="#e02020" fill="none" stroke-width="1.5"/>
<rect class="b" x="1003" y="879" width="30" height="24" rx="3"/><path d="M1006,898 h6 v-12 h10 v12 h6" stroke="#e02020" fill="none" stroke-width="1.5"/>
<rect class="b" x="1043" y="847" width="28" height="24" rx="3"/><text class="m" x="1057" y="864" text-anchor="middle" style="font-size:12px">P</text>
<rect class="b" x="1043" y="879" width="28" height="24" rx="3"/><text class="m" x="1057" y="896" text-anchor="middle" style="font-size:12px">P</text>
<g stroke="#000" stroke-width="1"><line x1="1043" y1="859" x2="1033" y2="859"/><line x1="1003" y1="859" x2="990" y2="859"/><line x1="960" y1="859" x2="947" y2="859"/><line x1="1043" y1="891" x2="1033" y2="891"/><line x1="1003" y1="891" x2="990" y2="891"/><line x1="960" y1="891" x2="947" y2="891"/><line x1="1098" y1="875" x2="1080" y2="875"/><line x1="1080" y1="859" x2="1080" y2="891"/><line x1="1080" y1="859" x2="1071" y2="859"/><line x1="1080" y1="891" x2="1071" y2="891"/></g>
<text class="m" x="868" y="893">V̄<tspan font-size="14" dy="5">Cinter</tspan></text>
<line class="l" stroke-width="1" x1="942" y1="876" x2="930" y2="876"/>

<!-- Basic symbology -->
<text x="1270" y="880" font-family="Liberation Serif,serif" font-weight="bold" font-style="italic" font-size="23">Basic Symbology</text>
<text class="m" x="1215" y="908">R</text>
<text class="s" x="1270" y="908">: Rearrange matrix X to</text>
<text class="s" x="1282" y="937">vector and vice versa.</text>
<text class="m" x="1215" y="966">P, C</text>
<text class="s" x="1272" y="966">: Park, Clarke transform.</text>
<rect class="b" x="1215" y="978" width="30" height="25" rx="3"/>
<path d="M1218,998 h6 v-13 h10 v13 h6" stroke="#e02020" fill="none" stroke-width="1.5"/>
<text class="s" x="1272" y="995">: Filter.</text>
</svg>
</body></html>
